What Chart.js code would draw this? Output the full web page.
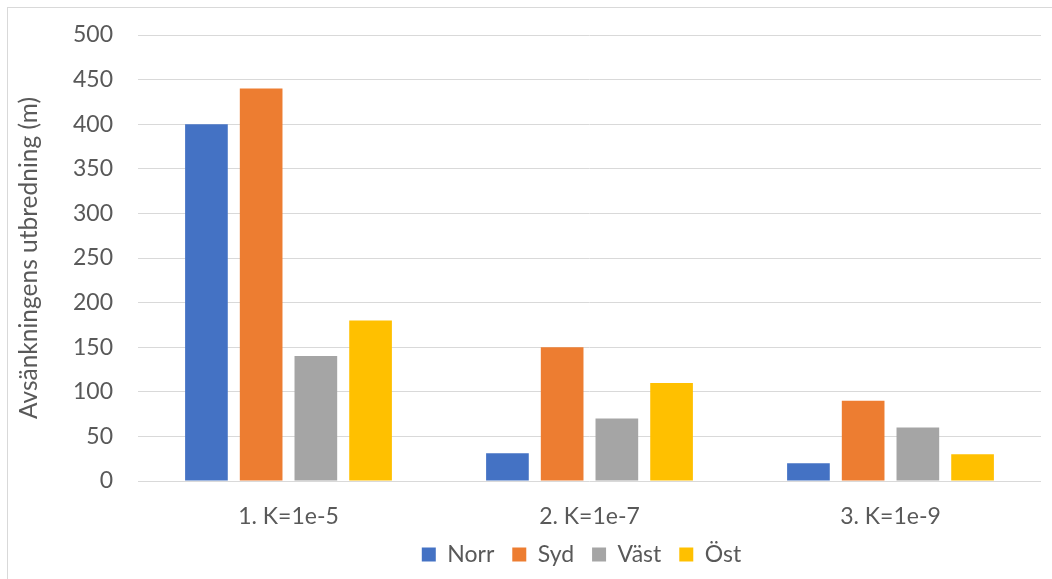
<!DOCTYPE html>
<html>
<head>
<meta charset="utf-8">
<script src="https://cdn.jsdelivr.net/npm/chart.js@4"></script>
<style>
  html, body { margin: 0; padding: 0; background: #fff; }
  #wrap { position: relative; width: 1052px; height: 579px; overflow: hidden; }
  #frame { position: absolute; left: 7px; top: 7px; width: 1100px; height: 700px;
           border-left: 1px solid #d9d9d9; border-top: 1px solid #d9d9d9; pointer-events: none; }
  #c { position: absolute; left: 0; top: 0; }
</style>
</head>
<body>
<div id="wrap">
  <canvas id="c" width="1052" height="579"></canvas>
  <div id="frame"></div>
</div>
<script>
const categories = ["1. K=1e-5", "2. K=1e-7", "3. K=1e-9"];
const seriesNames = ["Norr", "Syd", "Väst", "Öst"];
const norr = [400, 31, 20];
const syd = [440, 150, 90];
const vast = [140, 70, 60];
const ost = [180, 110, 30];
const yTicks = [0, 50, 100, 150, 200, 250, 300, 350, 400, 450, 500];
const yTitle = "Avsänkningens utbredning (m)";

const colors = ["#4472C4", "#ED7D31", "#A5A5A5", "#FFC000"];
const values = [norr, syd, vast, ost];
const FONT = "Lato, 'Open Sans', sans-serif";
const TXT = "#595959";

const shiftLegend = {
  id: 'shiftLegend',
  beforeDraw(chart) {
    const lg = chart.legend;
    if (lg && !lg._shifted) {
      lg.left += 57; lg.right += 57;
      lg._shifted = true;
      if (lg.adjustHitBoxes) lg.adjustHitBoxes();
    }
  }
};

new Chart(document.getElementById('c'), {
  type: 'bar',
  data: {
    labels: categories,
    datasets: seriesNames.map((n, i) => ({
      label: n,
      data: values[i],
      backgroundColor: colors[i],
      borderWidth: 0,
      categoryPercentage: 0.727,
      barPercentage: 0.78
    }))
  },
  plugins: [shiftLegend],
  options: {
    responsive: false,
    animation: false,
    devicePixelRatio: 1,
    layout: { padding: { left: 8, right: 11, top: 35, bottom: 3 } },
    plugins: {
      tooltip: { enabled: false },
      legend: {
        position: 'bottom',
        labels: {
          boxWidth: 14, boxHeight: 14, padding: 18,
          color: TXT,
          font: { family: FONT, size: 23 }
        }
      }
    },
    scales: {
      x: {
        grid: { display: false, drawTicks: false },
        border: { display: false },
        ticks: { color: TXT, font: { family: FONT, size: 23 }, padding: 22 },
        afterFit: (s) => { s.height = 44; }
      },
      y: {
        min: 0, max: 500,
        afterBuildTicks: (s) => { s.ticks = yTicks.map(v => ({ value: v })); },
        grid: { color: '#d9d9d9', lineWidth: 1, drawTicks: true, tickLength: 25, tickColor: 'rgba(0,0,0,0)' },
        border: { display: false },
        ticks: { color: TXT, font: { family: FONT, size: 23 }, padding: 0 },
        title: {
          display: true, text: yTitle, color: TXT,
          font: { family: FONT, size: 24.5 },
          padding: { top: 6, bottom: 0 }
        },
        afterFit: (s) => { s.width = 130; }
      }
    }
  }
});
</script>
</body>
</html>
